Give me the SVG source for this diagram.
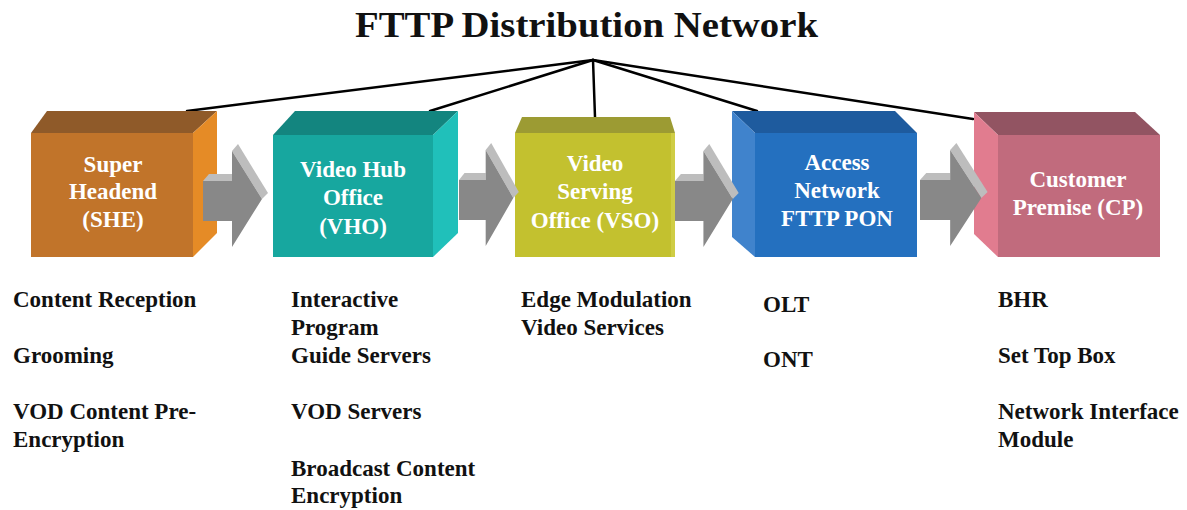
<svg xmlns="http://www.w3.org/2000/svg" width="1187" height="510" viewBox="0 0 1187 510">
<style>
.title{font-family:"Liberation Serif","Times New Roman",serif;font-weight:bold;font-size:35px;fill:#111}
.bt{font-family:"Liberation Serif","Times New Roman",serif;font-weight:bold;font-size:23px;fill:#fff;text-anchor:middle}
.lt{font-family:"Liberation Serif","Times New Roman",serif;font-weight:bold;font-size:23px;fill:#111}
.conn{stroke:#000;stroke-width:2.5;fill:none;stroke-linecap:round}
.af{fill:#888888}
.ab{fill:#BDBDBD}
</style>
<defs>
<g id="arrow">
<polygon class="ab" points="0,-18 6,-25 29,-25 29,-18"/>
<polygon class="ab" points="29,-48 35,-55 65,-6 59,0"/>
<polygon class="af" points="0,-18 29,-18 29,-48 59,0 29,48 29,22 0,22"/>
</g>
</defs>
<rect width="1187" height="510" fill="#fff"/>
<text class="title" x="355" y="37" textLength="463" lengthAdjust="spacingAndGlyphs">FTTP Distribution Network</text>

<g id="connectors">
<line class="conn" x1="593" y1="60" x2="187" y2="111"/>
<line class="conn" x1="593" y1="60" x2="430" y2="111"/>
<line class="conn" x1="593" y1="60" x2="595" y2="117"/>
<line class="conn" x1="593" y1="60" x2="757" y2="111"/>
<line class="conn" x1="593" y1="60" x2="973" y2="119"/>
</g>

<g id="node-she">
<polygon fill="#8F5A29" points="31,133 193,133 217,111 47,111"/>
<polygon fill="#E58B26" points="193,133 217,111 217,233 193,257"/>
<rect x="31" y="133" width="162" height="124" fill="#C1742A"/>
<text class="bt" x="113" y="172">Super</text>
<text class="bt" x="113" y="199">Headend</text>
<text class="bt" x="113" y="227">(SHE)</text>
</g>

<g id="node-vho">
<polygon fill="#13857F" points="273,135 433,135 458,111 295,111"/>
<polygon fill="#20C0BA" points="433,135 458,111 458,233 433,257"/>
<rect x="273" y="135" width="160" height="122" fill="#17A79F"/>
<text class="bt" x="353" y="177">Video Hub</text>
<text class="bt" x="353" y="205">Office</text>
<text class="bt" x="353" y="234">(VHO)</text>
</g>

<g id="node-vso">
<polygon fill="#9C9B33" points="515,133 675,133 670,117 522,117"/>
<rect x="515" y="133" width="160" height="124" fill="#C3C12F"/>
<rect x="671" y="133" width="4" height="124" fill="#CFCD45"/>
<text class="bt" x="595" y="171">Video</text>
<text class="bt" x="595" y="199">Serving</text>
<text class="bt" x="595" y="228">Office (VSO)</text>
</g>

<g id="node-access">
<polygon fill="#1E5B9E" points="732,111 895,111 917,133 755,133"/>
<polygon fill="#4083CC" points="732,111 755,133 755,257 732,237"/>
<rect x="755" y="133" width="162" height="124" fill="#2470BF"/>
<text class="bt" x="837" y="170">Access</text>
<text class="bt" x="837" y="198">Network</text>
<text class="bt" x="837" y="226">FTTP PON</text>
</g>

<g id="node-cp">
<polygon fill="#925462" points="974,112 1135,112 1160,135 998,135"/>
<polygon fill="#E17C8F" points="974,112 998,135 998,257 974,234"/>
<rect x="998" y="135" width="162" height="122" fill="#C16B7D"/>
<text class="bt" x="1078" y="187">Customer</text>
<text class="bt" x="1078" y="215">Premise (CP)</text>
</g>

<g id="arrows">
<use href="#arrow" transform="translate(203,199)"/>
<use href="#arrow" transform="translate(459,198) scale(0.92,1)"/>
<use href="#arrow" transform="translate(675,199) scale(0.98,1)"/>
<use href="#arrow" transform="translate(920,198) scale(1.04,1)"/>
</g>

<g id="labels-she">
<text class="lt" x="13" y="307">Content Reception</text>
<text class="lt" x="13" y="363">Grooming</text>
<text class="lt" x="13" y="419">VOD Content Pre-</text>
<text class="lt" x="13" y="447">Encryption</text>
</g>
<g id="labels-vho">
<text class="lt" x="291" y="307">Interactive</text>
<text class="lt" x="291" y="335">Program</text>
<text class="lt" x="291" y="363">Guide Servers</text>
<text class="lt" x="291" y="419">VOD Servers</text>
<text class="lt" x="291" y="476">Broadcast Content</text>
<text class="lt" x="291" y="503">Encryption</text>
</g>
<g id="labels-vso">
<text class="lt" x="521" y="307">Edge Modulation</text>
<text class="lt" x="521" y="335">Video Services</text>
</g>
<g id="labels-access">
<text class="lt" x="763" y="312">OLT</text>
<text class="lt" x="763" y="367">ONT</text>
</g>
<g id="labels-cp">
<text class="lt" x="998" y="307">BHR</text>
<text class="lt" x="998" y="363">Set Top Box</text>
<text class="lt" x="998" y="419">Network Interface</text>
<text class="lt" x="998" y="447">Module</text>
</g>
</svg>
